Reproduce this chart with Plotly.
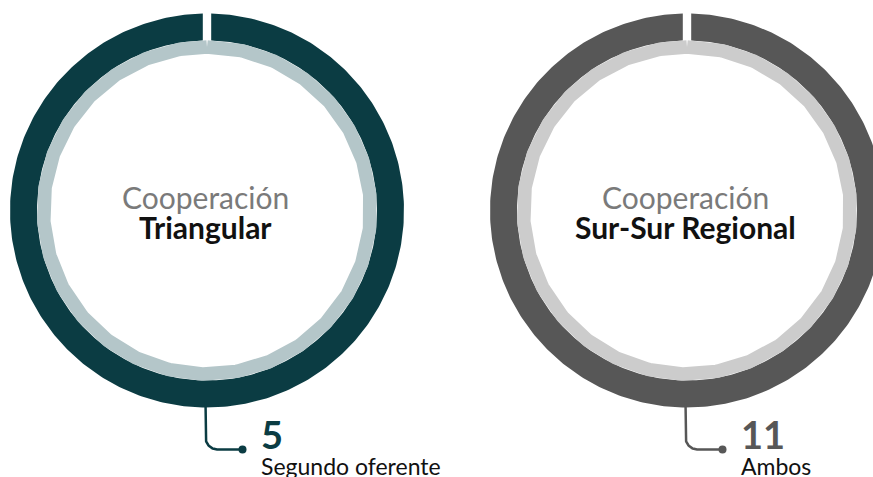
import numpy as np
import plotly.graph_objects as go

# ---- data ----
prefixes = ["Cooperación", "Cooperación"]
categories = ["Triangular", "Sur-Sur Regional"]
values = [5, 11]
roles = ["Segundo oferente", "Ambos"]

# ---- styles / layout constants ----
W, H = 873, 477
outer_colors = ["#0b3c43", "#575757"]
inner_colors = ["#b4c6c9", "#cccccc"]
number_colors = ["#0b3c43", "#575757"]
centers_x = [207, 687]
CY = 210.5
R_OUT, R_MID, R_IN = 197, 170, 157
GAP = 4.2
FONT = "Lato, 'Open Sans', sans-serif"


def arc(cx, cy, r, t0, t1, n=400):
    t = np.linspace(t0, t1, n)
    return cx + r * np.sin(t), cy - r * np.cos(t)


fig = go.Figure()
annotations = []

for i, cx in enumerate(centers_x):
    # outer ring with gap at top (vertical-edged gap)
    to = np.arcsin(GAP / R_OUT)
    ti = np.arcsin(GAP / R_MID)
    xo, yo = arc(cx, CY, R_OUT, to, 2 * np.pi - to)
    xi, yi = arc(cx, CY, R_MID, 2 * np.pi - ti, ti)
    xs = np.concatenate([xo, xi, xo[:1]])
    ys = np.concatenate([yo, yi, yo[:1]])
    fig.add_trace(go.Scatter(x=xs, y=ys, mode="lines", fill="toself",
                             fillcolor=outer_colors[i], line=dict(width=0),
                             hoverinfo="skip"))
    # inner light ring
    rm = (R_MID + R_IN) / 2
    xl, yl = arc(cx, CY, rm, 0, 2 * np.pi, 720)
    fig.add_trace(go.Scatter(x=xl, y=yl, mode="lines",
                             line=dict(width=R_MID - R_IN + 0.5, color=inner_colors[i]),
                             hoverinfo="skip"))
    # connector
    vx = cx - 1.5
    hy = 449.5
    rc = 12
    y_start = CY + R_OUT - 6
    cxs, cys = arc(vx + rc, hy - rc, rc, -np.pi / 2, -np.pi, 40)
    lx = np.concatenate([[vx], cxs, [vx + 37]])
    ly = np.concatenate([[y_start], cys, [hy]])
    fig.add_trace(go.Scatter(x=lx, y=ly, mode="lines",
                             line=dict(width=2.5, color=number_colors[i]),
                             hoverinfo="skip"))
    fig.add_trace(go.Scatter(x=[vx + 37], y=[hy], mode="markers",
                             marker=dict(size=8, color=number_colors[i]),
                             hoverinfo="skip"))

    # center texts
    annotations.append(dict(x=cx - 2, y=197, text=prefixes[i], showarrow=False,
                            xanchor="center", yanchor="middle",
                            font=dict(family=FONT, size=30, color="#7a7a7a")))
    annotations.append(dict(x=cx - 2, y=226.5, text="<b>" + categories[i] + "</b>",
                            showarrow=False, xanchor="center", yanchor="middle",
                            font=dict(family=FONT, size=30, color="#111111")))
    # value and role
    annotations.append(dict(x=vx + 53, y=434, text="<b>" + str(values[i]) + "</b>",
                            showarrow=False, xanchor="left", yanchor="middle",
                            font=dict(family=FONT, size=38, color=number_colors[i])))
    annotations.append(dict(x=vx + 53, y=466, text=roles[i], showarrow=False,
                            xanchor="left", yanchor="middle",
                            font=dict(family=FONT, size=23, color="#111111")))

fig.update_layout(
    width=W, height=H,
    margin=dict(l=0, r=0, t=0, b=0),
    paper_bgcolor="white", plot_bgcolor="white",
    showlegend=False, hovermode=False,
    xaxis=dict(range=[0, W], visible=False, fixedrange=True),
    yaxis=dict(range=[H, 0], visible=False, fixedrange=True),
    annotations=annotations,
)

fig.write_html("out.html", config={"displayModeBar": False},
               post_script="document.body.style.margin='0';document.body.style.overflow='hidden';")
